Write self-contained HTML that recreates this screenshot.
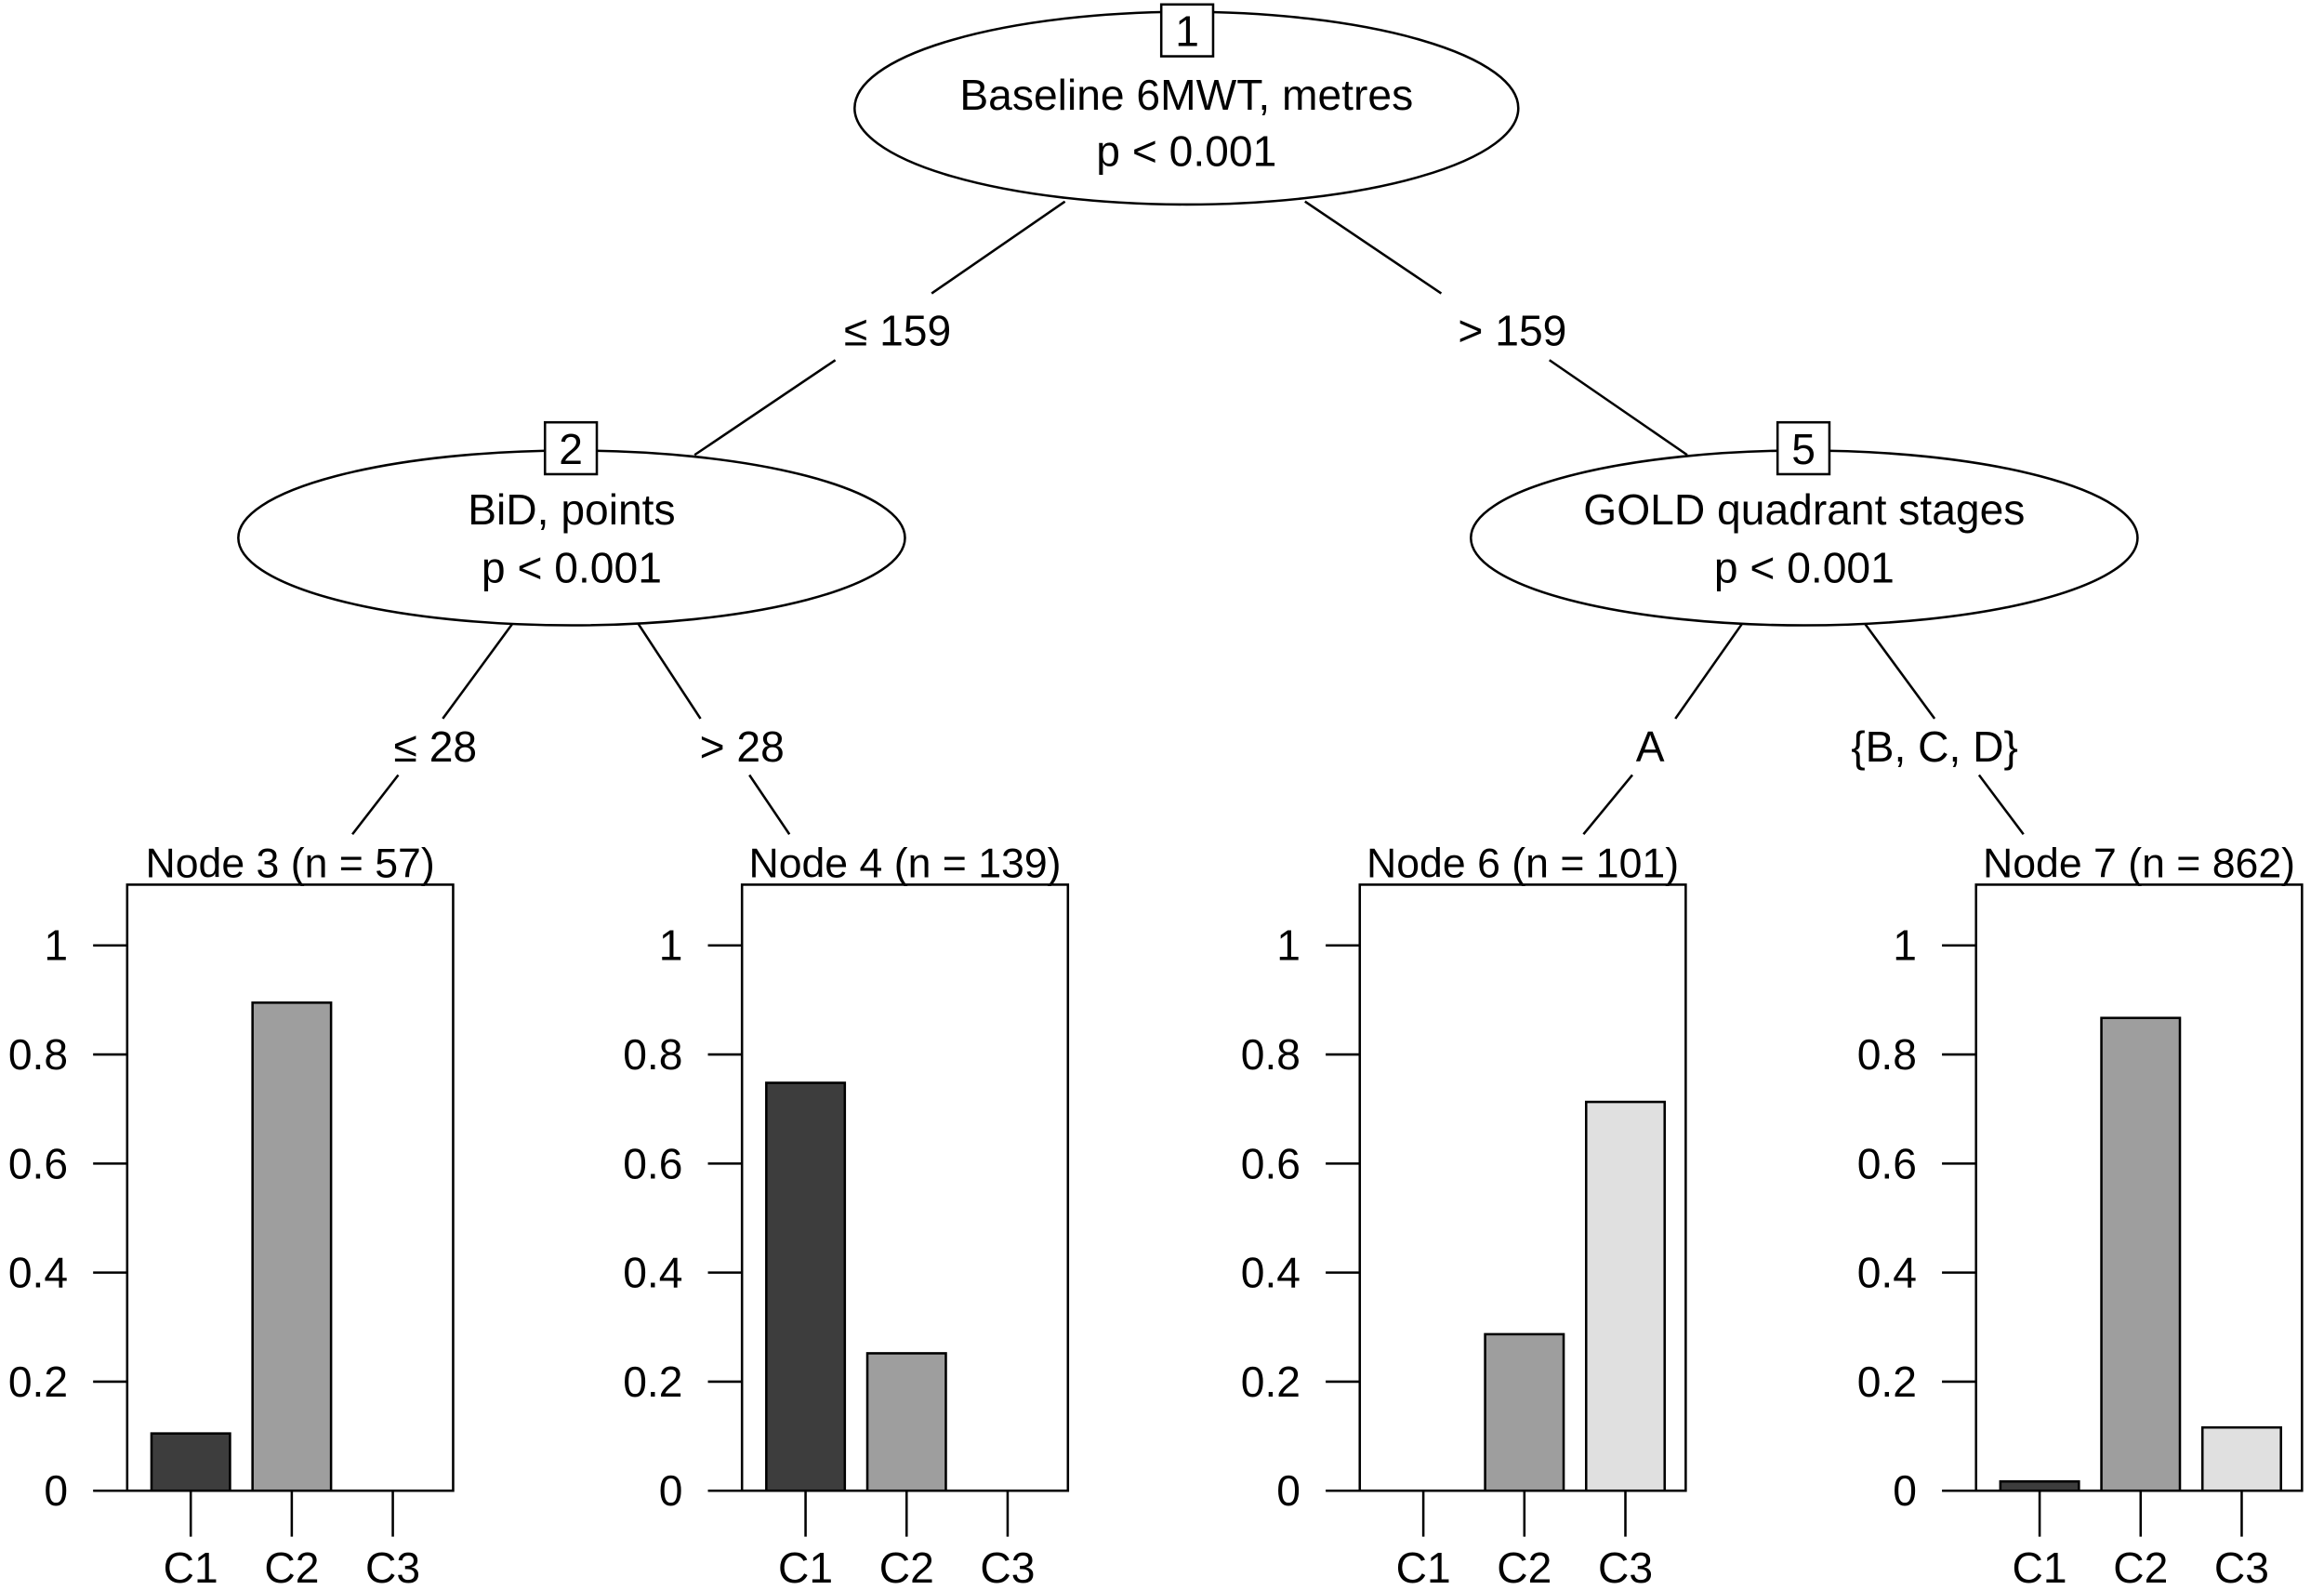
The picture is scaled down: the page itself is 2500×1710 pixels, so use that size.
<!DOCTYPE html>
<html><head><meta charset="utf-8"><style>
html,body{margin:0;padding:0;background:#fff}
svg{display:block}
text{font-family:"Liberation Sans",sans-serif;fill:#000}
</style></head><body>
<svg id="chart" width="2500" height="1710" viewBox="0 0 1567 1073" xmlns="http://www.w3.org/2000/svg">
<g id="tree" stroke="#000" stroke-width="1.6" fill="none">
  <line x1="718" y1="136" x2="628" y2="198"/>
  <line x1="563" y1="243" x2="468" y2="307"/>
  <line x1="880" y1="136" x2="972" y2="198"/>
  <line x1="1045" y1="243" x2="1138" y2="307"/>
  <line x1="345" y1="421" x2="298" y2="485"/>
  <line x1="268" y1="523" x2="237" y2="563"/>
  <line x1="430" y1="421" x2="472" y2="485"/>
  <line x1="505" y1="523" x2="532" y2="563"/>
  <line x1="1175" y1="421" x2="1130" y2="485"/>
  <line x1="1101" y1="523" x2="1068" y2="563"/>
  <line x1="1258" y1="421" x2="1305" y2="485"/>
  <line x1="1335" y1="523" x2="1365" y2="563"/>
  <ellipse cx="800" cy="73" rx="224" ry="65" fill="#fff"/>
  <ellipse cx="385" cy="363" rx="225" ry="59" fill="#fff"/>
  <ellipse cx="1217" cy="363" rx="225" ry="59" fill="#fff"/>
  <rect x="783" y="3" width="35" height="35" fill="#fff"/>
  <rect x="367" y="285" width="35" height="35" fill="#fff"/>
  <rect x="1199" y="285" width="35" height="35" fill="#fff"/>
</g>
<g font-size="29" text-anchor="middle">
  <text x="800.5" y="31">1</text>
  <text x="800" y="74">Baseline 6MWT, metres</text>
  <text x="800" y="112">p &lt; 0.001</text>
  <text x="384.5" y="313">2</text>
  <text x="385" y="354">BiD, points</text>
  <text x="385" y="393">p &lt; 0.001</text>
  <text x="1216.5" y="313">5</text>
  <text x="1217" y="354">GOLD quadrant stages</text>
  <text x="1217" y="393">p &lt; 0.001</text>
  <text x="605" y="233">≤ 159</text>
  <text x="1020" y="233">&gt; 159</text>
  <text x="293" y="514">≤ 28</text>
  <text x="500" y="514">&gt; 28</text>
  <text x="1113" y="514">A</text>
  <text x="1305" y="514">{B, C, D}</text>
</g>
<g id="panels"></g>
</svg>
<script>
const nodeTitles = ["Node 3 (n = 57)", "Node 4 (n = 139)", "Node 6 (n = 101)", "Node 7 (n = 862)"];
const categories = ["C1", "C2", "C3"];
const node3Values = [0.105, 0.895, 0];
const node4Values = [0.748, 0.252, 0];
const node6Values = [0, 0.287, 0.713];
const node7Values = [0.017, 0.867, 0.116];
const yTicks = [0, 0.2, 0.4, 0.6, 0.8, 1];
const yTickLabels = ["0", "0.2", "0.4", "0.6", "0.8", "1"];

const allValues = [node3Values, node4Values, node6Values, node7Values];
const panelLefts = [85, 500, 917, 1333];
const panelW = 220, panelTop = 597, y0 = 1006, unit = 368;
const fills = ["#3d3d3d", "#9e9e9e", "#e0e0e0"];
const NS = "http://www.w3.org/2000/svg";
const panelGroup = document.getElementById("panels");
function mk(tag, attrs) { const e = document.createElementNS(NS, tag); for (const k in attrs) e.setAttribute(k, attrs[k]); panelGroup.appendChild(e); return e; }
function yScale(v) { return y0 - v * unit; }
function xScale(left, i) { return left + panelW * (0.195 + i * 0.31); }

allValues.forEach((vals, p) => {
  const L = panelLefts[p];
  const box = mk("rect", {x: L, y: panelTop, width: panelW, height: y0 - panelTop, fill: "#fff", stroke: "#000", "stroke-width": 1.6});
  
  
  const t = mk("text", {x: L + panelW / 2, y: 592, "font-size": 28, "text-anchor": "middle"});
  t.textContent = nodeTitles[p];
  
  
  yTicks.forEach((v, k) => {
    const ln = mk("line", {x1: L - 23, x2: L, y1: yScale(v), y2: yScale(v), stroke: "#000", "stroke-width": 1.6});
    
    
    const lb = mk("text", {x: L - 40, y: yScale(v) + 10, "font-size": 29, "text-anchor": "end"});
    lb.textContent = yTickLabels[k];
    
    
  });
  categories.forEach((c, i) => {
    const cx = xScale(L, i);
    const v = vals[i];
    if (v > 0) {
      const b = mk("rect", {x: cx - 26.5, y: yScale(v), width: 53, height: y0 - yScale(v), fill: fills[i], stroke: "#000", "stroke-width": 1.6});
      
      
    }
    const tk = mk("line", {x1: cx, x2: cx, y1: y0, y2: y0 + 31, stroke: "#000", "stroke-width": 1.6});
    
    
    const xl = mk("text", {x: cx, y: 1068, "font-size": 29, "text-anchor": "middle"});
    xl.textContent = c;
    
    
  });
});
</script>
</body></html>
